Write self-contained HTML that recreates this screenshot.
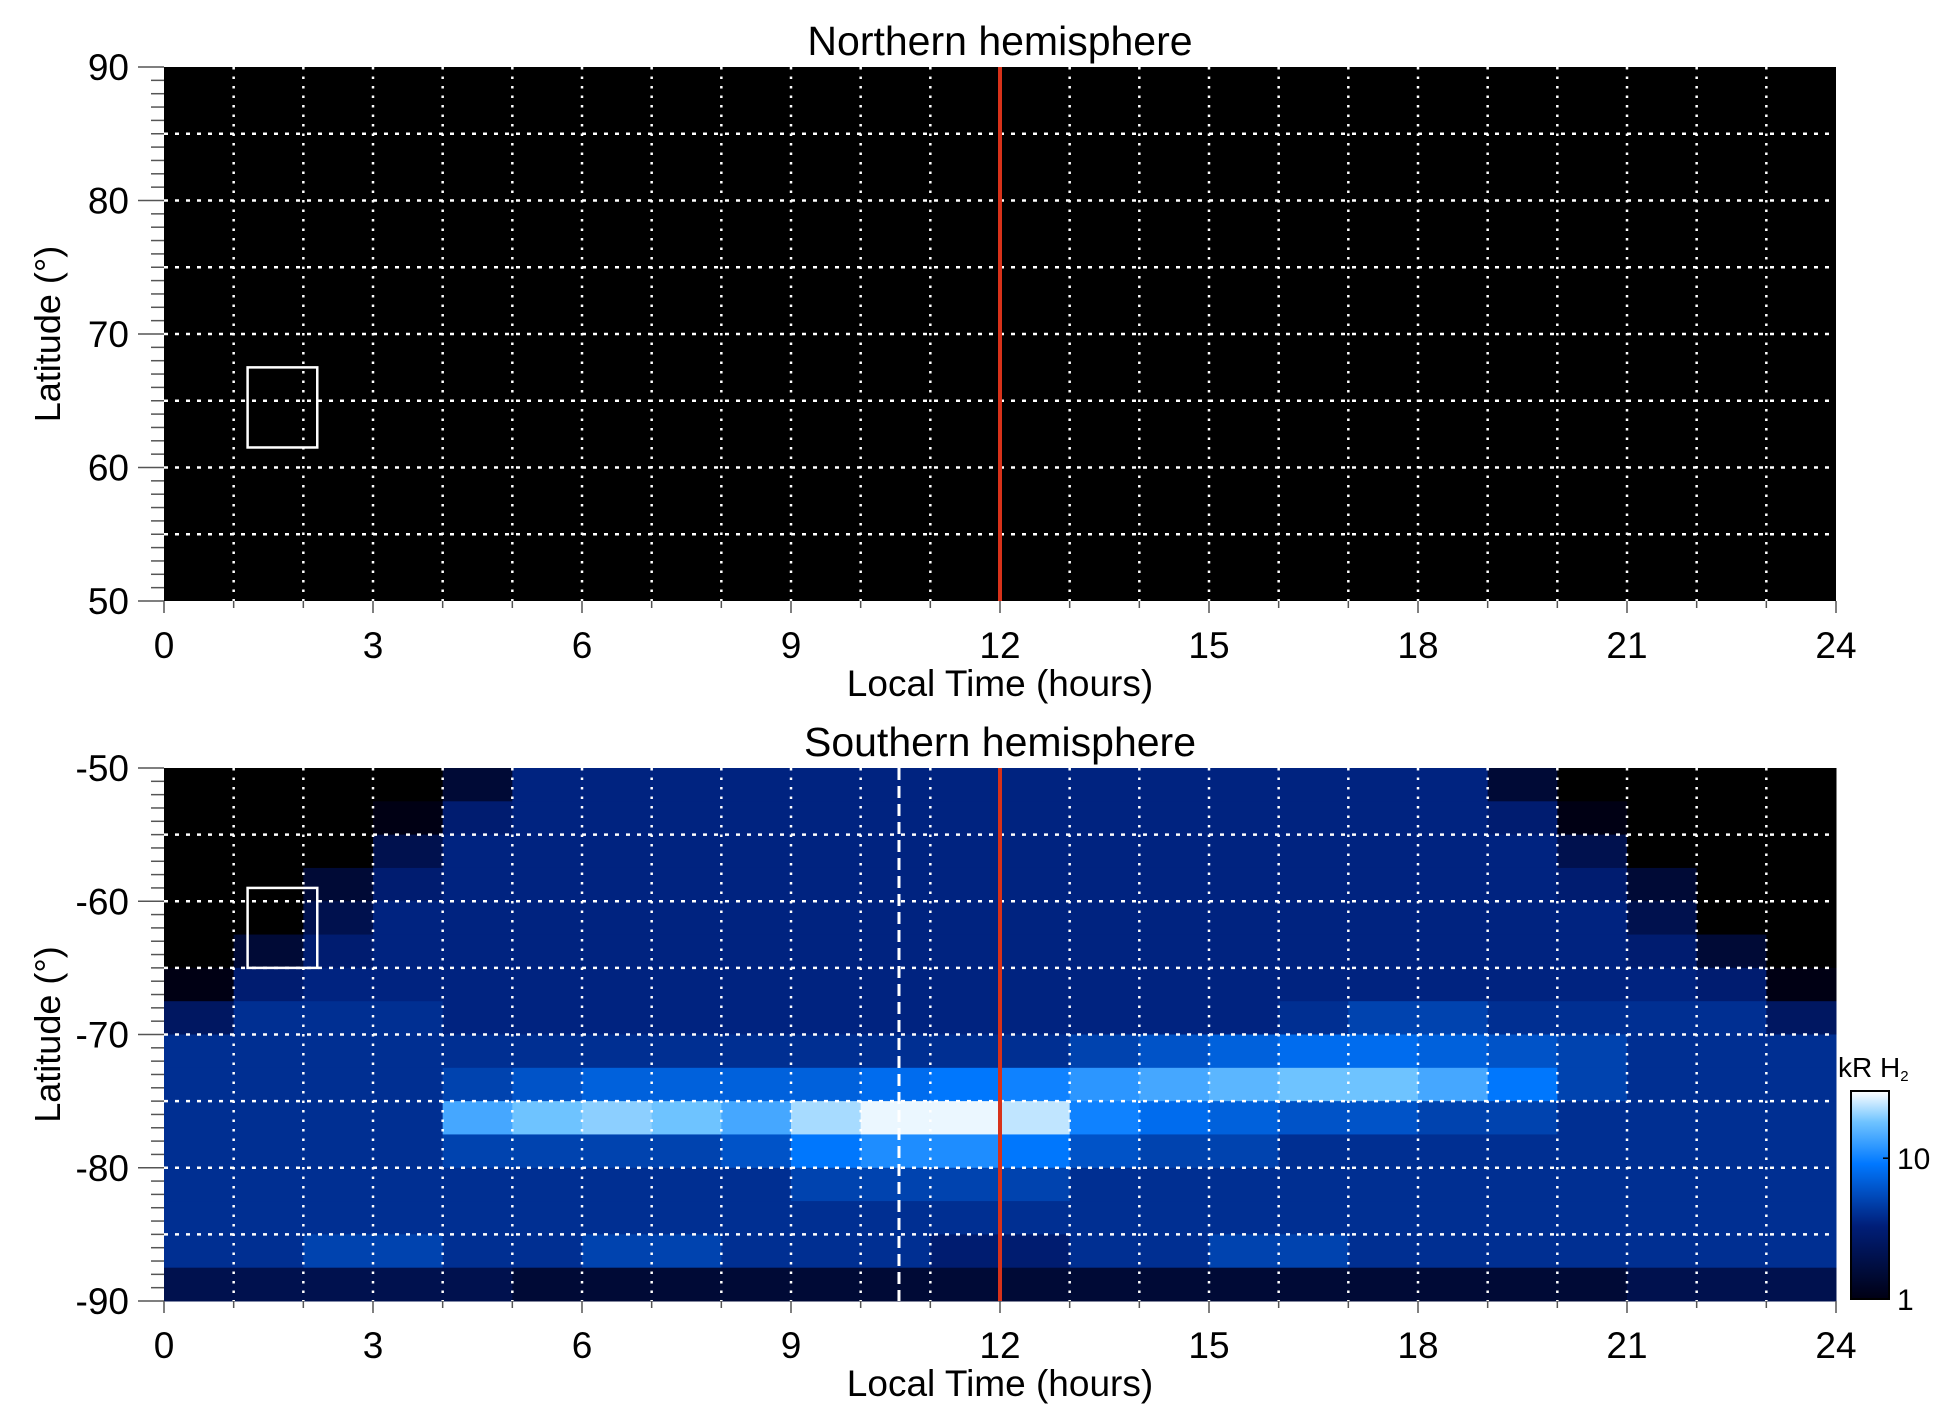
<!DOCTYPE html>
<html><head><meta charset="utf-8"><style>
html,body{margin:0;padding:0;background:#fff;}
svg text{font-family:"Liberation Sans",sans-serif;fill:#000;}
</style></head><body>
<svg id="chart" width="1950" height="1423" xmlns="http://www.w3.org/2000/svg"></svg>
<script>
// Data
const hours = [0,3,6,9,12,15,18,21,24];
const northLatTicks = [50,60,70,80,90];
const southLatTicks = [-90,-80,-70,-60,-50];
const colorbarTicks = [1,10];
// Southern intensity grid (kR), rows from -50 downward in 2.5 deg steps, 24 hourly columns; 0 = no data
const southRows = [
[0,0,0,0,1.5,3.5,3.5,3.5,3.5,3.5,3.5,3.5,3.5,3.5,3.5,3.5,3.5,3.5,3.5,1.5,0,0,0,0],
[0,0,0,1,3,3.5,3.5,3.5,3.5,3.5,3.5,3.5,3.5,3.5,3.5,3.5,3.5,3.5,3.5,3,1,0,0,0],
[0,0,0,2,3.5,3.5,3.5,3.5,3.5,3.5,3.5,3.5,3.5,3.5,3.5,3.5,3.5,3.5,3.5,3.5,2,0,0,0],
[0,0,1.5,3,3.5,3.5,3.5,3.5,3.5,3.5,3.5,3.5,3.5,3.5,3.5,3.5,3.5,3.5,3.5,3.5,3,1.5,0,0],
[0,0,2,3.5,3.5,3.5,3.5,3.5,3.5,3.5,3.5,3.5,3.5,3.5,3.5,3.5,3.5,3.5,3.5,3.5,3.5,2,0,0],
[0,1.5,3,3.5,3.5,3.5,3.5,3.5,3.5,3.5,3.5,3.5,3.5,3.5,3.5,3.5,3.5,3.5,3.5,3.5,3.5,3,1.5,0],
[1,3,3.5,3.5,3.5,3.5,3.5,3.5,3.5,3.5,3.5,3.5,3.5,3.5,3.5,3.5,3.5,3.5,3.5,3.5,3.5,3.5,3,1],
[2.5,4,4,4,3.5,3.5,3.5,3.5,3.5,3.5,3.5,3.5,3.5,3.5,3.5,3.5,4,5,5,4,4,4,4,2.5],
[4,4,4,4,4,4,4,4,4,4,4,4,4,5,6,7,8,8,7,6,5,4,4,4],
[4,4,4,4,5,6,7,7,7,7,8,9,10,12,14,16,18,18,14,9,5,4,4,4],
[4,4,4,4,14,18,20,18,14,22,28,28,24,10,8,7,6,6,5,5,4,4,4,4],
[4,4,4,4,5,5,5,5,6,9,11,11,9,6,5,5,4,4,4,4,4,4,4,4],
[4,4,4,4,4,4,4,4,4,5,5,5,5,4,4,4,4,4,4,4,4,4,4,4],
[4,4,4,4,4,4,4,4,4,4,4,4,4,4,4,4,4,4,4,4,4,4,4,4],
[4,4,5,5,4,4,5,5,4,4,4,3,3,4,4,5,5,4,4,4,4,4,4,4],
[2,2,2,2,2,1.5,1.5,1.5,1.5,1.5,1.5,1.5,1.5,1.5,1.5,1.5,1.5,1.5,1.5,1.5,1.5,2,2,2]
];
const noonLT = 12;
const dashedLT = 10.55;
const northBox = {t0:1.2,t1:2.2,lat0:61.5,lat1:67.5};
const southBox = {t0:1.2,t1:2.2,lat0:-65,lat1:-59};

const svg = document.getElementById('chart');
const NS = 'http://www.w3.org/2000/svg';
function mk(tag, attrs, parent){ const e=document.createElementNS(NS,tag); for(const k in attrs) e.setAttribute(k,attrs[k]); (parent||svg).appendChild(e); return e; }

const X0=164, X1=1836;
const xs = t => X0 + (t/24)*(X1-X0);

function cmap(v){
  if(v<=0) return 'rgb(0,0,0)';
  let t=Math.min(1,Math.max(0,Math.log10(v)/Math.log10(30)));
  const st=[[0,[0,0,20]],[0.35,[0,30,120]],[0.65,[0,120,255]],[0.85,[110,195,255]],[1,[255,255,255]]];
  for(let i=1;i<st.length;i++){ if(t<=st[i][0]){ const a=st[i-1],b=st[i]; const f=(t-a[0])/(b[0]-a[0]);
    const c=a[1].map((x,j)=>Math.round(x+(b[1][j]-x)*f)); return `rgb(${c})`; } }
  return 'rgb(255,255,255)';
}

function panel(cfg){
  const {Y0,Y1,latTop,latBot,title,name} = cfg;
  const ys = lat => Y0 + (latTop-lat)/(latTop-latBot)*(Y1-Y0);
  const g = mk('g',{});
  
  
  const bg = mk('rect',{x:X0,y:Y0,width:X1-X0,height:Y1-Y0,fill:'#000'},g);
  
  
  if(cfg.grid){
    const hm = mk('g',{},g);
    
    
    cfg.grid.forEach((row,ri)=>{
      const la=latTop-ri*2.5, lb=la-2.5;
      row.forEach((v,ci)=>{
        const c=mk('rect',{x:xs(ci),y:ys(la),width:xs(ci+1)-xs(ci)+0.5,height:ys(lb)-ys(la)+0.5,fill:cmap(v)},hm);
        
        
      });
    });
  }
  for(let h=1;h<24;h++){
    const l=mk('line',{x1:xs(h),x2:xs(h),y1:Y0,y2:Y1,stroke:'#fff','stroke-width':2.5,'stroke-dasharray':'2.5 7'},g);
    
    
  }
  for(let la=latTop-5; la>latBot; la-=5){
    const l=mk('line',{x1:X0,x2:X1,y1:ys(la),y2:ys(la),stroke:'#fff','stroke-width':2.5,'stroke-dasharray':'4 7'},g);
    
    
  }
  if(cfg.dashed!==undefined){
    const l=mk('line',{x1:xs(cfg.dashed),x2:xs(cfg.dashed),y1:Y0,y2:Y1,stroke:'#fff','stroke-width':3,'stroke-dasharray':'12 6'},g);
    
    
  }
  const b=cfg.box;
  const bx=mk('rect',{x:xs(b.t0),y:ys(b.lat1),width:xs(b.t1)-xs(b.t0),height:ys(b.lat0)-ys(b.lat1),fill:'none',stroke:'#fff','stroke-width':2.5},g);
  
  
  const rl=mk('line',{x1:xs(noonLT),x2:xs(noonLT),y1:Y0,y2:Y1,stroke:'#d8321a','stroke-width':4},g);
  
  
  for(let la=latBot; la<=latTop; la++){
    const major = la%10===0;
    const t=mk('line',{x1:major?X0-26:X0-13,x2:X0,y1:ys(la),y2:ys(la),stroke:'#555','stroke-width':1.5},g);
    
    
  }
  cfg.latTicks.forEach(la=>{
    const t=mk('text',{x:X0-35,y:ys(la)+13,'text-anchor':'end','font-size':37},g);
    t.textContent=la;
    
    
  });
  for(let h=0;h<=24;h++){
    const t=mk('line',{x1:xs(h),x2:xs(h),y1:Y1,y2:Y1+(h%3===0?12:7),stroke:'#555','stroke-width':1.5},g);
    
    
  }
  hours.forEach(h=>{
    const t=mk('text',{x:xs(h),y:Y1+57,'text-anchor':'middle','font-size':37},g);
    t.textContent=h;
    
    
  });
  const xt=mk('text',{x:(X0+X1)/2,y:Y1+95,'text-anchor':'middle','font-size':37},g);
  xt.textContent='Local Time (hours)';
  
  
  const yt=mk('text',{x:0,y:0,'text-anchor':'middle','font-size':36,transform:`translate(60,${(Y0+Y1)/2}) rotate(-90)`},g);
  yt.textContent='Latitude (°)';
  
  
  const tt=mk('text',{x:(X0+X1)/2,y:Y0-12,'text-anchor':'middle','font-size':41},g);
  tt.textContent=title;
  
  
}

panel({Y0:67,Y1:601,latTop:90,latBot:50,title:'Northern hemisphere',name:'north-panel',latTicks:northLatTicks,box:northBox});
panel({Y0:768,Y1:1301,latTop:-50,latBot:-90,title:'Southern hemisphere',name:'south-panel',latTicks:southLatTicks,box:southBox,grid:southRows,dashed:dashedLT});

const CB={x:1851,w:38,y0:1091,y1:1299,vmax:30};
const cbs = v => CB.y1 - Math.log10(v)/Math.log10(CB.vmax)*(CB.y1-CB.y0);
const defs=mk('defs',{});
const gr=mk('linearGradient',{id:'cbg',x1:0,y1:1,x2:0,y2:0},defs);
for(let i=0;i<=20;i++){ const v=Math.pow(CB.vmax,i/20); mk('stop',{offset:i/20,'stop-color':cmap(v)},gr); }
const cb=mk('rect',{x:CB.x,y:CB.y0,width:CB.w,height:CB.y1-CB.y0,fill:'url(#cbg)',stroke:'#000','stroke-width':2});


colorbarTicks.forEach(v=>{
  const t=mk('text',{x:CB.x+CB.w+8,y:cbs(v)+11,'font-size':30});
  t.textContent=v;
  
  
  const l=mk('line',{x1:CB.x+CB.w-6,x2:CB.x+CB.w,y1:cbs(v),y2:cbs(v),stroke:'#000','stroke-width':1.5});
  
  
});
const cl=mk('text',{x:1838,y:1077,'font-size':28});
cl.innerHTML='kR H<tspan font-size="15" dy="4">2</tspan>';


</script>
</body></html>
